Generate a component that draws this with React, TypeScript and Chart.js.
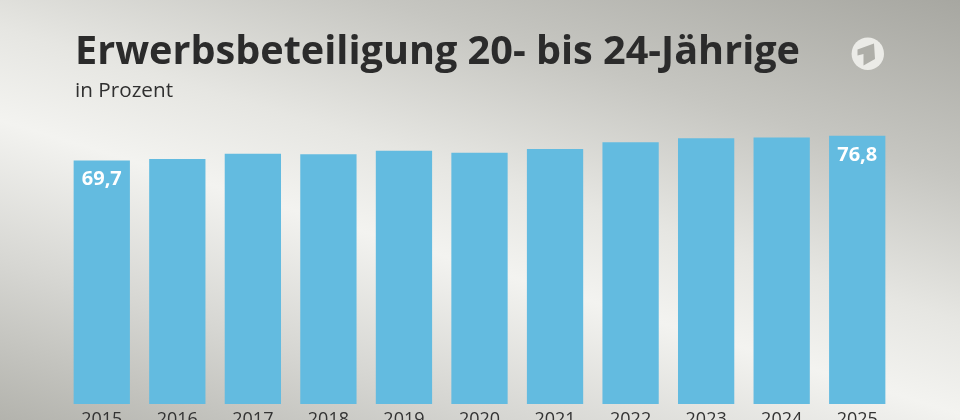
import React, { useEffect, useRef } from "react";
import { Chart, registerables } from "chart.js";

Chart.register(...registerables);

const titleText = "Erwerbsbeteiligung 20- bis 24-Jährige";
const subtitleText = "in Prozent";
const years = ["2015", "2016", "2017", "2018", "2019", "2020", "2021", "2022", "2023", "2024", "2025"];
const shares = [69.7, 70.1, 71.6, 71.5, 72.5, 71.9, 73.0, 74.9, 76.1, 76.3, 76.8];
const valueLabels = ["69,7", "", "", "", "", "", "", "", "", "", "76,8"];

const FONT = "'Open Sans', 'DejaVu Sans', sans-serif";

const decorPlugin = {
  id: "decor",
  beforeDraw(chart: any) {
    const ctx = chart.ctx as CanvasRenderingContext2D;
    ctx.save();
    // title
    ctx.fillStyle = "#2b2b2b";
    ctx.textBaseline = "alphabetic";
    ctx.textAlign = "left";
    ctx.font = `bold 39px ${FONT}`;
    const tw = ctx.measureText(titleText).width;
    ctx.save();
    ctx.translate(75, 63.5);
    ctx.scale(725 / tw, 1);
    ctx.fillText(titleText, 0, 0);
    ctx.restore();
    // subtitle
    ctx.font = `19.5px ${FONT}`;
    const sw = ctx.measureText(subtitleText).width;
    ctx.save();
    ctx.translate(75, 97.3);
    ctx.scale(98 / sw, 1);
    ctx.fillStyle = "#303030";
    ctx.fillText(subtitleText, 0, 0);
    ctx.restore();
    // logo
    ctx.beginPath();
    ctx.arc(867.8, 53.7, 16.2, 0, Math.PI * 2);
    ctx.fillStyle = "#ebebe7";
    ctx.fill();
    ctx.beginPath();
    ctx.moveTo(857.5, 49.5);
    ctx.lineTo(874, 43.5);
    ctx.lineTo(875, 59);
    ctx.lineTo(863.5, 65.5);
    ctx.lineTo(863.5, 54);
    ctx.lineTo(857.5, 55.5);
    ctx.closePath();
    ctx.fillStyle = "#aeaea8";
    ctx.fill();
    ctx.restore();
  },
  afterDatasetsDraw(chart: any) {
    const ctx = chart.ctx as CanvasRenderingContext2D;
    const meta = chart.getDatasetMeta(0);
    ctx.save();
    ctx.font = `bold 20px ${FONT}`;
    ctx.fillStyle = "#ffffff";
    ctx.textAlign = "center";
    ctx.textBaseline = "alphabetic";
    meta.data.forEach((bar: any, i: number) => {
      const txt = valueLabels[i];
      if (!txt) return;
      ctx.fillText(txt, bar.x, bar.y + 25);
    });
    ctx.restore();
  },
};

export default function App() {
  const canvasRef = useRef<HTMLCanvasElement | null>(null);

  useEffect(() => {
    if (!canvasRef.current) return;
    const chart = new Chart(canvasRef.current, {
      type: "bar",
      data: {
        labels: years,
        datasets: [
          {
            data: shares,
            backgroundColor: "#63bbe0",
            borderWidth: 0,
            barPercentage: 0.745,
            categoryPercentage: 1,
          },
        ],
      },
      options: {
        animation: false,
        responsive: true,
        maintainAspectRatio: false,
        layout: { padding: { top: 124.5, left: 64, right: 65, bottom: 4.4 } },
        plugins: {
          legend: { display: false },
          title: { display: false },
          tooltip: { enabled: false },
        },
        scales: {
          y: { display: false, min: 0, max: 80 },
          x: {
            grid: { display: false, drawTicks: false },
            border: { display: false },
            ticks: {
              color: "#333333",
              padding: 5,
              font: { family: FONT, size: 18 },
            },
          },
        },
      },
      plugins: [decorPlugin],
    });
    return () => chart.destroy();
  }, []);

  return (
    <div
      style={{
        position: "absolute",
        left: 0,
        top: 0,
        width: 960,
        height: 420,
        overflow: "hidden",
        background:
          "linear-gradient(17deg, #b3b3ad 0%, #d6d6d2 22%, #f3f3f0 42%, #e6e6e2 55%, #c6c6c1 75%, #a7a7a1 100%)",
      }}
    >
      <div style={{ position: "relative", width: 960, height: 440 }}>
        <canvas ref={canvasRef} />
      </div>
    </div>
  );
}
